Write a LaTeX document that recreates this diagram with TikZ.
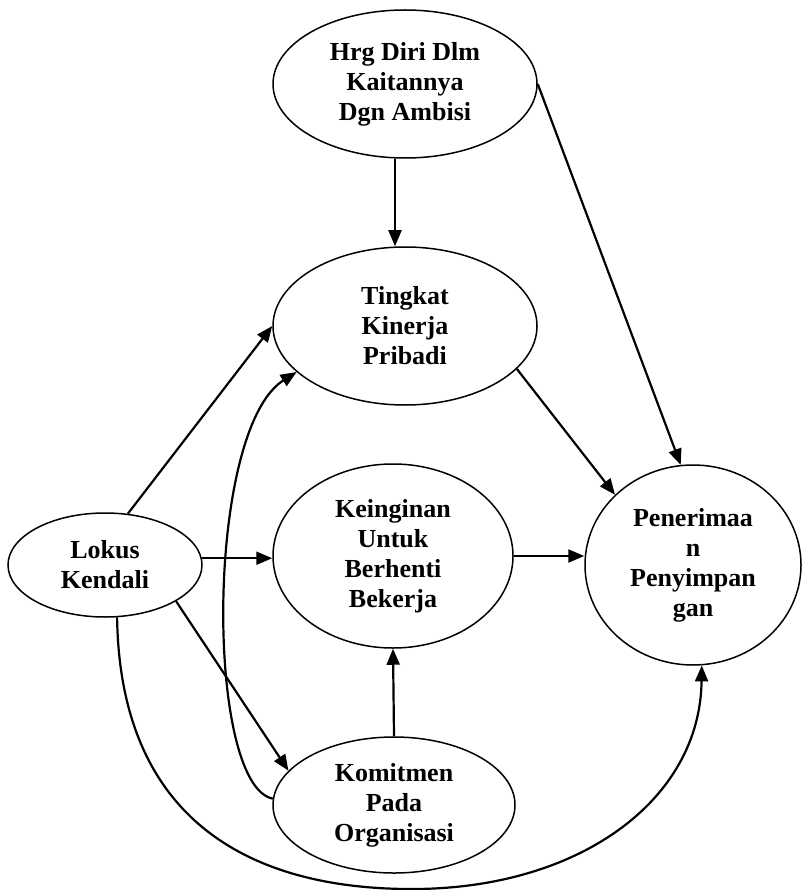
\documentclass[tikz,border=0pt]{standalone}
\usepackage{fontspec}
\setmainfont{Liberation Serif}
\usetikzlibrary{shapes.geometric,arrows.meta,calc}
\begin{document}
\begin{tikzpicture}[x=1pt,y=-1pt,
  var/.style={ellipse, draw, line width=1.5pt, inner sep=0pt, align=center,
    font=\bfseries\fontsize{26}{30}\selectfont},
  arr/.style={line width=2.2pt, -{Triangle[length=16pt,width=13pt]}}]
\useasboundingbox (0,0) rectangle (804,890);

% variables
\node[var, minimum width=264pt, minimum height=148pt] (hrg)  at (405,84)  {Hrg Diri Dlm\\Kaitannya\\Dgn Ambisi};
\node[var, minimum width=264pt, minimum height=158pt] (ting) at (405,326) {Tingkat\\Kinerja\\Pribadi};
\node[var, minimum width=240pt, minimum height=184pt] (kein) at (393,556) {Keinginan\\Untuk\\Berhenti\\Bekerja};
\node[var, minimum width=194pt, minimum height=104pt] (lok)  at (105,565) {Lokus\\Kendali};
\node[var, minimum width=216pt, minimum height=200pt] (pen)  at (693,565) {Penerimaa\\n\\Penyimpan\\gan};
\node[var, minimum width=242pt, minimum height=136pt] (kom)  at (394,805) {Komitmen\\Pada\\Organisasi};

% relations
\draw[arr] ([xshift=-10pt]hrg.south) -- ([xshift=-10pt]ting.north);
\draw[arr] (hrg.east) -- (pen.97);
\draw[arr] (ting.-21) -- (pen.138);
\draw[arr] (lok.66) -- (ting.west);
\draw[arr] (kom.177) .. controls (205,785) and (205,430) .. (ting.203);
\draw[arr] (lok.4) -- (lok.4 -| kein.west);
\draw[arr] (kein.east) -- (kein.east -| pen.west);
\draw[arr] (lok.-27) -- (kom.162);
\draw[arr] (kom.north) -- (kein.south);
\draw[arr] (lok.-77) .. controls (120,820) and (250,890) .. (415,889)
                     .. controls (580,888) and (700,800) .. (pen.-85);
\end{tikzpicture}
\end{document}
